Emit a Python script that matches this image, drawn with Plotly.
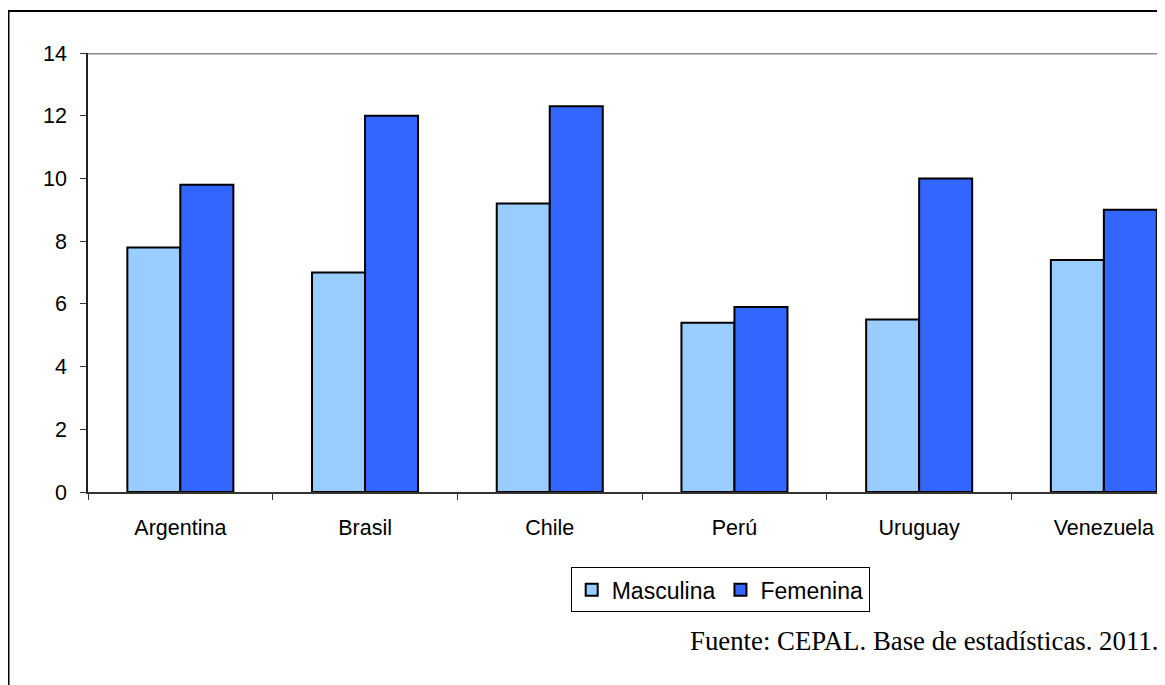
import plotly.graph_objects as go

categories = ["Argentina", "Brasil", "Chile", "Perú", "Uruguay", "Venezuela"]
masculina = [7.8, 7.0, 9.2, 5.4, 5.5, 7.4]
femenina = [9.8, 12.0, 12.3, 5.9, 10.0, 9.0]
y_ticks = [0, 2, 4, 6, 8, 10, 12, 14]
source_text = "Fuente: CEPAL. Base de estadísticas. 2011."

# page body has an 8px margin: figure occupies screen x 8..1165, y 8..685
W, H = 1157, 677
L, T, B = 80, 45, 193
PW, PH = W - L, H - T - B

fig = go.Figure()
fig.add_trace(go.Bar(x=categories, y=masculina, name="Masculina",
                     marker=dict(color="#99CCFF", line=dict(color="black", width=2))))
fig.add_trace(go.Bar(x=categories, y=femenina, name="Femenina",
                     marker=dict(color="#3366FF", line=dict(color="black", width=2))))

fig.update_layout(
    width=W, height=H,
    margin=dict(l=L, r=0, t=T, b=B, pad=0),
    paper_bgcolor="white", plot_bgcolor="white",
    font=dict(family="Liberation Sans, Arial, sans-serif", size=21.5, color="black"),
    barmode="group", bargap=0.426, bargroupgap=0,
    showlegend=True,
    legend=dict(orientation="h", x=0.587, xanchor="center", y=-0.223, yanchor="middle",
                bordercolor="black", borderwidth=1, font=dict(size=23),
                itemclick=False, tracegroupgap=0),
)
fig.update_xaxes(
    type="category", range=[-0.5, 5.331], showgrid=False,
    showline=True, linecolor="#333333", linewidth=1.5,
    ticks="outside", tickson="boundaries", ticklen=6, tickcolor="#333333",
    ticklabelstandoff=15, fixedrange=True,
)
fig.update_yaxes(
    range=[0, 14], tickvals=y_ticks, showgrid=False, zeroline=False,
    showline=True, linecolor="#222222", linewidth=1.5,
    ticks="outside", ticklen=6, tickcolor="#333333", ticklabelstandoff=9,
)
# top border line of plot area at 14
fig.add_shape(type="line", xref="paper", yref="y", x0=0, x1=1, y0=14, y1=14,
              line=dict(color="#8c8c8c", width=3))
# outer frame
fig.add_shape(type="rect", xref="paper", yref="paper",
              x0=(0.5 - L) / PW, x1=1.02, y0=-0.46, y1=1 + (T - 3) / PH,
              line=dict(color="black", width=2), fillcolor="rgba(0,0,0,0)")
fig.add_annotation(text=source_text, xref="paper", yref="paper",
                   x=(1160 - 8 - L) / PW, xanchor="right",
                   y=(492 - 641) / PH, yanchor="middle", showarrow=False,
                   font=dict(family="Liberation Serif, Times New Roman, serif", size=26.8, color="black"))

fig.write_html("out.html")
